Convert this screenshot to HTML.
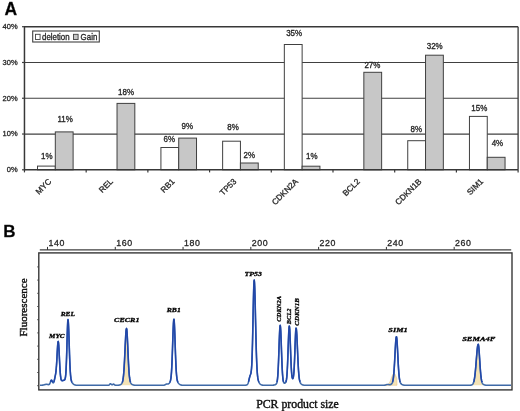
<!DOCTYPE html>
<html><head><meta charset="utf-8"><style>
html,body{margin:0;padding:0;background:#fff;width:520px;height:411px;overflow:hidden}
svg{display:block;will-change:transform} text{stroke:#2a2a2a;stroke-width:0.3px;stroke-linejoin:round} text.nb{stroke:none}
</style></head><body>
<svg width="520" height="411" viewBox="0 0 520 411">
<text x="4.6" y="14.6" font-family="Liberation Sans, sans-serif" font-size="17.5" font-weight="bold" fill="#000">A</text>
<line x1="24.46" y1="134.03" x2="518.1" y2="134.03" stroke="#404040" stroke-width="1.2"/>
<line x1="24.46" y1="98.25" x2="518.1" y2="98.25" stroke="#404040" stroke-width="1.2"/>
<line x1="24.46" y1="62.48" x2="518.1" y2="62.48" stroke="#404040" stroke-width="1.2"/>
<line x1="22" y1="169.80" x2="24.46" y2="169.80" stroke="#404040" stroke-width="1.2"/>
<line x1="22" y1="134.03" x2="24.46" y2="134.03" stroke="#404040" stroke-width="1.2"/>
<line x1="22" y1="98.25" x2="24.46" y2="98.25" stroke="#404040" stroke-width="1.2"/>
<line x1="22" y1="62.48" x2="24.46" y2="62.48" stroke="#404040" stroke-width="1.2"/>
<line x1="22" y1="26.70" x2="24.46" y2="26.70" stroke="#404040" stroke-width="1.2"/>
<text x="17.6" y="28.80" font-family="Liberation Sans, sans-serif" font-size="7.5" text-anchor="end" fill="#222">40%</text>
<text x="17.6" y="64.56" font-family="Liberation Sans, sans-serif" font-size="7.5" text-anchor="end" fill="#222">30%</text>
<text x="17.6" y="100.56" font-family="Liberation Sans, sans-serif" font-size="7.5" text-anchor="end" fill="#222">20%</text>
<text x="17.6" y="136.06" font-family="Liberation Sans, sans-serif" font-size="7.5" text-anchor="end" fill="#222">10%</text>
<text x="17.6" y="171.90" font-family="Liberation Sans, sans-serif" font-size="7.5" text-anchor="end" fill="#222">0%</text>
<rect x="37.51" y="166.10" width="17.80" height="3.70" fill="#fff" stroke="#404040" stroke-width="1"/>
<rect x="55.31" y="131.90" width="17.80" height="37.90" fill="#c7c7c7" stroke="#404040" stroke-width="1"/>
<rect x="117.02" y="103.40" width="17.80" height="66.40" fill="#c7c7c7" stroke="#404040" stroke-width="1"/>
<rect x="160.92" y="147.50" width="17.80" height="22.30" fill="#fff" stroke="#404040" stroke-width="1"/>
<rect x="178.72" y="138.10" width="17.80" height="31.70" fill="#c7c7c7" stroke="#404040" stroke-width="1"/>
<rect x="222.63" y="141.20" width="17.80" height="28.60" fill="#fff" stroke="#404040" stroke-width="1"/>
<rect x="240.43" y="163.00" width="17.80" height="6.80" fill="#c7c7c7" stroke="#404040" stroke-width="1"/>
<rect x="284.33" y="44.50" width="17.80" height="125.30" fill="#fff" stroke="#404040" stroke-width="1"/>
<rect x="302.13" y="166.20" width="17.80" height="3.60" fill="#c7c7c7" stroke="#404040" stroke-width="1"/>
<rect x="363.84" y="72.30" width="17.80" height="97.50" fill="#c7c7c7" stroke="#404040" stroke-width="1"/>
<rect x="407.74" y="140.70" width="17.80" height="29.10" fill="#fff" stroke="#404040" stroke-width="1"/>
<rect x="425.54" y="55.20" width="17.80" height="114.60" fill="#c7c7c7" stroke="#404040" stroke-width="1"/>
<rect x="469.45" y="116.40" width="17.80" height="53.40" fill="#fff" stroke="#404040" stroke-width="1"/>
<rect x="487.25" y="157.30" width="17.80" height="12.50" fill="#c7c7c7" stroke="#404040" stroke-width="1"/>
<line x1="24.46" y1="26.7" x2="518.1" y2="26.7" stroke="#383838" stroke-width="1.5"/>
<line x1="518.1" y1="26.7" x2="518.1" y2="169.8" stroke="#383838" stroke-width="1.3"/>
<line x1="24.46" y1="26" x2="24.46" y2="170.4" stroke="#383838" stroke-width="1.5"/>
<line x1="24.46" y1="169.8" x2="518.1" y2="169.8" stroke="#383838" stroke-width="1.5"/>
<line x1="24.46" y1="169.8" x2="24.46" y2="172.4" stroke="#383838" stroke-width="1.2"/>
<line x1="86.17" y1="169.8" x2="86.17" y2="172.4" stroke="#383838" stroke-width="1.2"/>
<line x1="147.87" y1="169.8" x2="147.87" y2="172.4" stroke="#383838" stroke-width="1.2"/>
<line x1="209.58" y1="169.8" x2="209.58" y2="172.4" stroke="#383838" stroke-width="1.2"/>
<line x1="271.28" y1="169.8" x2="271.28" y2="172.4" stroke="#383838" stroke-width="1.2"/>
<line x1="332.99" y1="169.8" x2="332.99" y2="172.4" stroke="#383838" stroke-width="1.2"/>
<line x1="394.69" y1="169.8" x2="394.69" y2="172.4" stroke="#383838" stroke-width="1.2"/>
<line x1="456.40" y1="169.8" x2="456.40" y2="172.4" stroke="#383838" stroke-width="1.2"/>
<line x1="518.10" y1="169.8" x2="518.10" y2="172.4" stroke="#383838" stroke-width="1.2"/>
<text transform="translate(46.75,159.40) scale(1,1.15)" font-family="Liberation Sans, sans-serif" font-size="8" text-anchor="middle" fill="#222">1%</text>
<text transform="translate(65.10,121.90) scale(1,1.15)" font-family="Liberation Sans, sans-serif" font-size="8" text-anchor="middle" fill="#222">11%</text>
<text transform="translate(126.10,94.60) scale(1,1.15)" font-family="Liberation Sans, sans-serif" font-size="8" text-anchor="middle" fill="#222">18%</text>
<text transform="translate(169.35,142.40) scale(1,1.15)" font-family="Liberation Sans, sans-serif" font-size="8" text-anchor="middle" fill="#222">6%</text>
<text transform="translate(187.35,128.50) scale(1,1.15)" font-family="Liberation Sans, sans-serif" font-size="8" text-anchor="middle" fill="#222">9%</text>
<text transform="translate(233.05,130.30) scale(1,1.15)" font-family="Liberation Sans, sans-serif" font-size="8" text-anchor="middle" fill="#222">8%</text>
<text transform="translate(249.30,157.50) scale(1,1.15)" font-family="Liberation Sans, sans-serif" font-size="8" text-anchor="middle" fill="#222">2%</text>
<text transform="translate(294.15,36.40) scale(1,1.15)" font-family="Liberation Sans, sans-serif" font-size="8" text-anchor="middle" fill="#222">35%</text>
<text transform="translate(311.85,158.80) scale(1,1.15)" font-family="Liberation Sans, sans-serif" font-size="8" text-anchor="middle" fill="#222">1%</text>
<text transform="translate(372.40,67.70) scale(1,1.15)" font-family="Liberation Sans, sans-serif" font-size="8" text-anchor="middle" fill="#222">27%</text>
<text transform="translate(416.35,131.60) scale(1,1.15)" font-family="Liberation Sans, sans-serif" font-size="8" text-anchor="middle" fill="#222">8%</text>
<text transform="translate(434.70,48.50) scale(1,1.15)" font-family="Liberation Sans, sans-serif" font-size="8" text-anchor="middle" fill="#222">32%</text>
<text transform="translate(479.30,111.20) scale(1,1.15)" font-family="Liberation Sans, sans-serif" font-size="8" text-anchor="middle" fill="#222">15%</text>
<text transform="translate(497.45,145.60) scale(1,1.15)" font-family="Liberation Sans, sans-serif" font-size="8" text-anchor="middle" fill="#222">4%</text>
<text transform="translate(48.51,178.00) rotate(-45)" x="-0.5" y="5.2" font-family="Liberation Sans, sans-serif" font-size="8.2" text-anchor="end" fill="#222">MYC</text>
<text transform="translate(110.22,178.00) rotate(-45)" x="-0.5" y="5.2" font-family="Liberation Sans, sans-serif" font-size="8.2" text-anchor="end" fill="#222">REL</text>
<text transform="translate(171.92,178.00) rotate(-45)" x="-0.5" y="5.2" font-family="Liberation Sans, sans-serif" font-size="8.2" text-anchor="end" fill="#222">RB1</text>
<text transform="translate(233.63,178.00) rotate(-45)" x="-0.5" y="5.2" font-family="Liberation Sans, sans-serif" font-size="8.2" text-anchor="end" fill="#222">TP53</text>
<text transform="translate(295.33,178.00) rotate(-45)" x="-0.5" y="5.2" font-family="Liberation Sans, sans-serif" font-size="8.2" text-anchor="end" fill="#222">CDKN2A</text>
<text transform="translate(357.04,178.00) rotate(-45)" x="-0.5" y="5.2" font-family="Liberation Sans, sans-serif" font-size="8.2" text-anchor="end" fill="#222">BCL2</text>
<text transform="translate(418.74,178.00) rotate(-45)" x="-0.5" y="5.2" font-family="Liberation Sans, sans-serif" font-size="8.2" text-anchor="end" fill="#222">CDKN1B</text>
<text transform="translate(480.45,178.00) rotate(-45)" x="-0.5" y="5.2" font-family="Liberation Sans, sans-serif" font-size="8.2" text-anchor="end" fill="#222">SIM1</text>
<rect x="32.7" y="31" width="66.6" height="11" fill="#fff" stroke="#404040" stroke-width="1.1"/>
<rect x="35.5" y="34.3" width="4.6" height="5.2" fill="#fff" stroke="#404040" stroke-width="0.9"/>
<text transform="translate(42,39.8) scale(1,1.1)" font-family="Liberation Sans, sans-serif" font-size="7.9" fill="#222">deletion</text>
<rect x="73.5" y="34.3" width="4.6" height="5.2" fill="#c7c7c7" stroke="#404040" stroke-width="0.9"/>
<text transform="translate(80.6,39.8) scale(1,1.1)" font-family="Liberation Sans, sans-serif" font-size="7.9" fill="#222">Gain</text>
<text x="3.3" y="236.7" font-family="Liberation Sans, sans-serif" font-size="17" font-weight="bold" fill="#000">B</text>
<rect x="38.8" y="252.9" width="473.2" height="136.99999999999997" fill="none" stroke="#303030" stroke-width="1.35"/>
<line x1="39.8" y1="249.8" x2="511.2" y2="249.8" stroke="#404040" stroke-width="1.3"/>
<line x1="37.2" y1="266.90" x2="38.8" y2="266.90" stroke="#404040" stroke-width="0.9"/>
<line x1="37.2" y1="280.10" x2="38.8" y2="280.10" stroke="#404040" stroke-width="0.9"/>
<line x1="37.2" y1="293.30" x2="38.8" y2="293.30" stroke="#404040" stroke-width="0.9"/>
<line x1="37.2" y1="306.50" x2="38.8" y2="306.50" stroke="#404040" stroke-width="0.9"/>
<line x1="37.2" y1="319.70" x2="38.8" y2="319.70" stroke="#404040" stroke-width="0.9"/>
<line x1="37.2" y1="332.90" x2="38.8" y2="332.90" stroke="#404040" stroke-width="0.9"/>
<line x1="37.2" y1="346.10" x2="38.8" y2="346.10" stroke="#404040" stroke-width="0.9"/>
<line x1="37.2" y1="359.30" x2="38.8" y2="359.30" stroke="#404040" stroke-width="0.9"/>
<line x1="37.2" y1="372.50" x2="38.8" y2="372.50" stroke="#404040" stroke-width="0.9"/>
<line x1="37.2" y1="385.70" x2="38.8" y2="385.70" stroke="#404040" stroke-width="0.9"/>
<line x1="47.50" y1="246.9" x2="47.50" y2="249.8" stroke="#303030" stroke-width="1"/>
<text x="48.40" y="245.8" font-family="Liberation Sans, sans-serif" font-size="8.8" letter-spacing="0.6" fill="#222">140</text>
<line x1="115.28" y1="246.9" x2="115.28" y2="249.8" stroke="#303030" stroke-width="1"/>
<text x="116.18" y="245.8" font-family="Liberation Sans, sans-serif" font-size="8.8" letter-spacing="0.6" fill="#222">160</text>
<line x1="183.06" y1="246.9" x2="183.06" y2="249.8" stroke="#303030" stroke-width="1"/>
<text x="183.96" y="245.8" font-family="Liberation Sans, sans-serif" font-size="8.8" letter-spacing="0.6" fill="#222">180</text>
<line x1="250.84" y1="246.9" x2="250.84" y2="249.8" stroke="#303030" stroke-width="1"/>
<text x="251.74" y="245.8" font-family="Liberation Sans, sans-serif" font-size="8.8" letter-spacing="0.6" fill="#222">200</text>
<line x1="318.62" y1="246.9" x2="318.62" y2="249.8" stroke="#303030" stroke-width="1"/>
<text x="319.52" y="245.8" font-family="Liberation Sans, sans-serif" font-size="8.8" letter-spacing="0.6" fill="#222">220</text>
<line x1="386.40" y1="246.9" x2="386.40" y2="249.8" stroke="#303030" stroke-width="1"/>
<text x="387.30" y="245.8" font-family="Liberation Sans, sans-serif" font-size="8.8" letter-spacing="0.6" fill="#222">240</text>
<line x1="454.18" y1="246.9" x2="454.18" y2="249.8" stroke="#303030" stroke-width="1"/>
<text x="455.08" y="245.8" font-family="Liberation Sans, sans-serif" font-size="8.8" letter-spacing="0.6" fill="#222">260</text>
<polygon points="119.50,385.30 119.50,385.60 119.75,385.53 120.00,385.44 120.25,385.33 120.50,385.20 120.75,385.05 121.00,384.87 121.25,384.65 121.50,384.38 121.75,384.05 122.00,383.62 122.25,383.06 122.50,382.32 122.75,381.35 123.00,380.05 123.25,378.36 123.50,376.16 123.75,373.40 124.00,369.99 124.25,365.93 124.50,361.27 124.75,356.11 125.00,350.66 125.25,345.19 125.50,340.02 125.75,335.51 126.00,332.00 126.25,329.77 126.50,329.00 126.75,329.88 127.00,332.43 127.25,336.40 127.50,341.44 127.75,347.10 128.00,352.98 128.25,358.67 128.50,363.90 128.75,368.47 129.00,372.30 129.25,375.40 129.50,377.81 129.75,379.66 130.00,381.04 130.25,382.06 130.50,382.82 130.75,383.39 131.00,383.83 131.25,384.18 131.50,384.46 131.75,384.70 132.00,384.90 132.25,385.07 132.50,385.21 132.75,385.33 133.00,385.44 133.00,385.30" fill="#f3e2b5" stroke="none"/>
<polygon points="469.00,385.30 469.00,385.88 469.25,385.87 469.50,385.86 469.75,385.85 470.00,385.83 470.25,385.81 470.50,385.78 470.75,385.75 471.00,385.70 471.25,385.64 471.50,385.57 471.75,385.47 472.00,385.34 472.25,385.18 472.50,384.97 472.75,384.69 473.00,384.33 473.25,383.86 473.50,383.27 473.75,382.51 474.00,381.56 474.25,380.39 474.50,378.96 474.75,377.26 475.00,375.26 475.25,372.96 475.50,370.37 475.75,367.53 476.00,364.50 476.25,361.34 476.50,358.15 476.75,355.06 477.00,352.18 477.25,349.63 477.50,347.54 477.75,346.01 478.00,345.12 478.25,344.92 478.50,345.69 478.75,347.50 479.00,350.19 479.25,353.56 479.50,357.34 479.75,361.30 480.00,365.20 480.25,368.86 480.50,372.13 480.75,374.96 481.00,377.32 481.25,379.23 481.50,380.74 481.75,381.90 482.00,382.78 482.25,383.44 482.50,383.94 482.75,384.32 483.00,384.62 483.25,384.85 483.50,385.03 483.50,385.30" fill="#f3e2b5" stroke="none"/>
<polygon points="384,385.30 384.00,385.29 384.25,385.29 384.50,385.28 384.75,385.28 385.00,385.27 385.25,385.26 385.50,385.24 385.75,385.22 386.00,385.19 386.25,385.16 386.50,385.11 386.75,385.05 387.00,384.98 387.25,384.89 387.50,384.77 387.75,384.63 388.00,384.46 388.25,384.26 388.50,384.02 388.75,383.74 389.00,383.41 389.25,383.04 389.50,382.62 389.75,382.15 390.00,381.63 390.25,381.06 390.50,380.45 390.75,379.81 391.00,379.13 391.25,378.44 391.50,377.74 391.75,377.05 392.00,376.37 392.25,375.73 392.50,375.14 392.75,374.61 393.00,374.16 393.25,373.79 393.50,373.52 393.75,373.36 394.00,373.30 394.25,373.36 394.50,373.52 394.75,373.79 395.00,374.16 395.25,374.61 395.50,375.14 395.75,375.73 396.00,376.37 396.25,377.05 396.50,377.74 396.75,378.44 397,385.30" fill="#f3e2b5" stroke="#e6bd78" stroke-width="0.5"/>
<polyline points="40.00,385.29 40.25,385.29 40.50,385.29 40.75,385.28 41.00,385.28 41.25,385.27 41.50,385.26 41.75,385.24 42.00,385.22 42.25,385.20 42.50,385.16 42.75,385.13 43.00,385.08 43.25,385.03 43.50,384.98 43.75,384.91 44.00,384.84 44.25,384.77 44.50,384.69 44.75,384.62 45.00,384.55 45.25,384.48 45.50,384.42 45.75,384.37 46.00,384.33 46.25,384.31 46.50,384.30 46.75,384.31 47.00,384.33 47.25,384.36 47.50,384.41 47.75,384.47 48.00,384.52 48.25,384.57 48.50,384.61 48.75,384.61 49.00,384.55 49.25,384.40 49.50,384.14 49.75,383.75 50.00,383.21 50.25,382.56 50.50,381.84 50.75,381.16 51.00,380.60 51.25,380.25 51.50,380.18 51.75,380.38 52.00,380.80 52.25,381.35 52.50,381.93 52.75,382.42 53.00,382.74 53.25,382.83 53.50,382.65 53.75,382.21 54.00,381.50 54.25,380.59 54.50,379.51 54.75,378.35 55.00,377.14 55.25,375.90 55.50,374.57 55.75,373.03 56.00,371.08 56.25,368.54 56.50,365.27 56.75,361.28 57.00,356.75 57.25,352.03 57.50,347.62 57.75,344.08 58.00,341.90 58.25,341.42 58.50,342.73 58.75,345.68 59.00,349.88 59.25,354.84 59.50,360.02 59.75,364.96 60.00,369.30 60.25,372.87 60.50,375.62 60.75,377.60 61.00,378.95 61.25,379.81 61.50,380.30 61.75,380.55 62.00,380.65 62.25,380.65 62.50,380.61 62.75,380.55 63.00,380.48 63.25,380.42 63.50,380.36 63.75,380.30 64.00,380.22 64.25,380.11 64.50,379.93 64.75,379.63 65.00,379.12 65.25,378.24 65.50,376.79 65.75,374.48 66.00,370.99 66.25,366.04 66.50,359.50 66.75,351.56 67.00,342.74 67.25,333.99 67.50,326.47 67.75,321.38 68.00,319.58 68.25,320.97 68.50,324.93 68.75,330.95 69.00,338.28 69.25,346.14 69.50,353.77 69.75,360.65 70.00,366.45 70.25,371.06 70.50,374.56 70.75,377.12 71.00,378.93 71.25,380.21 71.50,381.13 71.75,381.80 72.00,382.32 72.25,382.75 72.50,383.11 72.75,383.42 73.00,383.69 73.25,383.94 73.50,384.15 73.75,384.34 74.00,384.51 74.25,384.65 74.50,384.77 74.75,384.87 75.00,384.95 75.25,385.02 75.50,385.08 75.75,385.13 76.00,385.17 76.25,385.20 76.50,385.22 76.75,385.24 77.00,385.25 77.25,385.27 77.50,385.28 77.75,385.28 78.00,385.29 78.25,385.29 78.50,385.29 78.75,385.30 79.00,385.30 79.25,385.30 79.50,385.30 79.75,385.30 80.00,385.30 80.25,385.30 80.50,385.30 80.75,385.30 81.00,385.30 81.25,385.30 81.50,385.30 81.75,385.30 82.00,385.30 82.25,385.30 82.50,385.30 82.75,385.30 83.00,385.30 83.25,385.30 83.50,385.30 83.75,385.30 84.00,385.30 84.25,385.30 84.50,385.30 84.75,385.30 85.00,385.30 85.25,385.30 85.50,385.30 85.75,385.30 86.00,385.30 86.25,385.30 86.50,385.30 86.75,385.30 87.00,385.30 87.25,385.30 87.50,385.30 87.75,385.30 88.00,385.30 88.25,385.30 88.50,385.30 88.75,385.30 89.00,385.30 89.25,385.30 89.50,385.30 89.75,385.30 90.00,385.30 90.25,385.30 90.50,385.30 90.75,385.30 91.00,385.30 91.25,385.30 91.50,385.30 91.75,385.30 92.00,385.30 92.25,385.30 92.50,385.30 92.75,385.30 93.00,385.30 93.25,385.30 93.50,385.30 93.75,385.30 94.00,385.30 94.25,385.30 94.50,385.30 94.75,385.30 95.00,385.30 95.25,385.30 95.50,385.30 95.75,385.30 96.00,385.30 96.25,385.30 96.50,385.30 96.75,385.30 97.00,385.30 97.25,385.30 97.50,385.30 97.75,385.30 98.00,385.30 98.25,385.30 98.50,385.30 98.75,385.30 99.00,385.30 99.25,385.30 99.50,385.30 99.75,385.30 100.00,385.30 100.25,385.30 100.50,385.30 100.75,385.30 101.00,385.30 101.25,385.30 101.50,385.30 101.75,385.30 102.00,385.30 102.25,385.30 102.50,385.30 102.75,385.30 103.00,385.30 103.25,385.30 103.50,385.30 103.75,385.30 104.00,385.30 104.25,385.30 104.50,385.30 104.75,385.30 105.00,385.30 105.25,385.30 105.50,385.30 105.75,385.30 106.00,385.30 106.25,385.30 106.50,385.30 106.75,385.30 107.00,385.30 107.25,385.30 107.50,385.30 107.75,385.30 108.00,385.29 108.25,385.27 108.50,385.23 108.75,385.15 109.00,385.02 109.25,384.83 109.50,384.57 109.75,384.27 110.00,383.98 110.25,383.78 110.50,383.70 110.75,383.77 111.00,383.97 111.25,384.25 111.50,384.51 111.75,384.72 112.00,384.82 112.25,384.80 112.50,384.68 112.75,384.50 113.00,384.30 113.25,384.15 113.50,384.10 113.75,384.16 114.00,384.31 114.25,384.53 114.50,384.75 114.75,384.94 115.00,385.09 115.25,385.19 115.50,385.24 115.75,385.27 116.00,385.28 116.25,385.29 116.50,385.29 116.75,385.28 117.00,385.28 117.25,385.27 117.50,385.26 117.75,385.25 118.00,385.23 118.25,385.21 118.50,385.18 118.75,385.15 119.00,385.11 119.25,385.06 119.50,385.00 119.75,384.93 120.00,384.84 120.25,384.73 120.50,384.60 120.75,384.45 121.00,384.27 121.25,384.05 121.50,383.78 121.75,383.45 122.00,383.02 122.25,382.46 122.50,381.72 122.75,380.75 123.00,379.45 123.25,377.76 123.50,375.56 123.75,372.80 124.00,369.39 124.25,365.33 124.50,360.67 124.75,355.51 125.00,350.06 125.25,344.59 125.50,339.42 125.75,334.91 126.00,331.40 126.25,329.17 126.50,328.40 126.75,329.28 127.00,331.83 127.25,335.80 127.50,340.84 127.75,346.50 128.00,352.38 128.25,358.07 128.50,363.30 128.75,367.87 129.00,371.70 129.25,374.80 129.50,377.21 129.75,379.06 130.00,380.44 130.25,381.46 130.50,382.22 130.75,382.79 131.00,383.23 131.25,383.58 131.50,383.86 131.75,384.10 132.00,384.30 132.25,384.47 132.50,384.61 132.75,384.73 133.00,384.84 133.25,384.93 133.50,385.00 133.75,385.06 134.00,385.11 134.25,385.15 134.50,385.18 134.75,385.21 135.00,385.23 135.25,385.25 135.50,385.26 135.75,385.27 136.00,385.28 136.25,385.28 136.50,385.29 136.75,385.29 137.00,385.29 137.25,385.30 137.50,385.30 137.75,385.30 138.00,385.30 138.25,385.30 138.50,385.30 138.75,385.30 139.00,385.30 139.25,385.30 139.50,385.30 139.75,385.30 140.00,385.30 140.25,385.30 140.50,385.30 140.75,385.30 141.00,385.30 141.25,385.30 141.50,385.30 141.75,385.30 142.00,385.30 142.25,385.30 142.50,385.30 142.75,385.30 143.00,385.30 143.25,385.30 143.50,385.30 143.75,385.30 144.00,385.30 144.25,385.30 144.50,385.30 144.75,385.30 145.00,385.30 145.25,385.30 145.50,385.30 145.75,385.30 146.00,385.30 146.25,385.30 146.50,385.30 146.75,385.30 147.00,385.30 147.25,385.30 147.50,385.30 147.75,385.30 148.00,385.30 148.25,385.30 148.50,385.30 148.75,385.30 149.00,385.30 149.25,385.30 149.50,385.30 149.75,385.30 150.00,385.30 150.25,385.30 150.50,385.30 150.75,385.30 151.00,385.30 151.25,385.30 151.50,385.30 151.75,385.30 152.00,385.30 152.25,385.30 152.50,385.30 152.75,385.30 153.00,385.30 153.25,385.30 153.50,385.30 153.75,385.30 154.00,385.30 154.25,385.30 154.50,385.30 154.75,385.30 155.00,385.30 155.25,385.30 155.50,385.30 155.75,385.30 156.00,385.30 156.25,385.30 156.50,385.30 156.75,385.30 157.00,385.30 157.25,385.30 157.50,385.30 157.75,385.30 158.00,385.30 158.25,385.30 158.50,385.30 158.75,385.30 159.00,385.30 159.25,385.30 159.50,385.30 159.75,385.30 160.00,385.30 160.25,385.30 160.50,385.30 160.75,385.30 161.00,385.30 161.25,385.30 161.50,385.30 161.75,385.30 162.00,385.30 162.25,385.30 162.50,385.29 162.75,385.29 163.00,385.28 163.25,385.27 163.50,385.25 163.75,385.22 164.00,385.17 164.25,385.11 164.50,385.02 164.75,384.92 165.00,384.79 165.25,384.65 165.50,384.50 165.75,384.36 166.00,384.23 166.25,384.13 166.50,384.06 166.75,384.02 167.00,384.00 167.25,384.00 167.50,384.01 167.75,384.01 168.00,383.98 168.25,383.92 168.50,383.81 168.75,383.66 169.00,383.45 169.25,383.19 169.50,382.87 169.75,382.47 170.00,381.97 170.25,381.32 170.50,380.44 170.75,379.21 171.00,377.50 171.25,375.12 171.50,371.89 171.75,367.65 172.00,362.32 172.25,355.94 172.50,348.74 172.75,341.13 173.00,333.70 173.25,327.17 173.50,322.23 173.75,319.47 174.00,319.21 174.25,321.49 174.50,326.04 174.75,332.30 175.00,339.61 175.25,347.23 175.50,354.56 175.75,361.13 176.00,366.68 176.25,371.13 176.50,374.55 176.75,377.08 177.00,378.92 177.25,380.23 177.50,381.17 177.75,381.87 178.00,382.41 178.25,382.84 178.50,383.20 178.75,383.51 179.00,383.78 179.25,384.02 179.50,384.22 179.75,384.40 180.00,384.56 180.25,384.69 180.50,384.81 180.75,384.90 181.00,384.98 181.25,385.05 181.50,385.10 181.75,385.14 182.00,385.18 182.25,385.21 182.50,385.23 182.75,385.25 183.00,385.26 183.25,385.27 183.50,385.28 183.75,385.28 184.00,385.29 184.25,385.29 184.50,385.29 184.75,385.30 185.00,385.30 185.25,385.30 185.50,385.30 185.75,385.30 186.00,385.30 186.25,385.30 186.50,385.30 186.75,385.30 187.00,385.30 187.25,385.30 187.50,385.30 187.75,385.30 188.00,385.30 188.25,385.30 188.50,385.30 188.75,385.30 189.00,385.30 189.25,385.30 189.50,385.30 189.75,385.30 190.00,385.30 190.25,385.30 190.50,385.30 190.75,385.30 191.00,385.30 191.25,385.30 191.50,385.30 191.75,385.30 192.00,385.30 192.25,385.30 192.50,385.30 192.75,385.30 193.00,385.30 193.25,385.30 193.50,385.30 193.75,385.30 194.00,385.30 194.25,385.30 194.50,385.30 194.75,385.30 195.00,385.30 195.25,385.30 195.50,385.30 195.75,385.30 196.00,385.30 196.25,385.30 196.50,385.30 196.75,385.30 197.00,385.30 197.25,385.30 197.50,385.30 197.75,385.30 198.00,385.30 198.25,385.30 198.50,385.30 198.75,385.30 199.00,385.30 199.25,385.30 199.50,385.30 199.75,385.30 200.00,385.30 200.25,385.30 200.50,385.30 200.75,385.30 201.00,385.30 201.25,385.30 201.50,385.30 201.75,385.30 202.00,385.30 202.25,385.30 202.50,385.30 202.75,385.30 203.00,385.30 203.25,385.30 203.50,385.30 203.75,385.30 204.00,385.30 204.25,385.30 204.50,385.30 204.75,385.30 205.00,385.30 205.25,385.30 205.50,385.30 205.75,385.30 206.00,385.30 206.25,385.30 206.50,385.30 206.75,385.30 207.00,385.30 207.25,385.30 207.50,385.30 207.75,385.30 208.00,385.30 208.25,385.30 208.50,385.30 208.75,385.30 209.00,385.30 209.25,385.30 209.50,385.30 209.75,385.30 210.00,385.30 210.25,385.30 210.50,385.30 210.75,385.30 211.00,385.30 211.25,385.30 211.50,385.30 211.75,385.30 212.00,385.30 212.25,385.30 212.50,385.30 212.75,385.30 213.00,385.30 213.25,385.30 213.50,385.30 213.75,385.30 214.00,385.30 214.25,385.30 214.50,385.30 214.75,385.30 215.00,385.30 215.25,385.30 215.50,385.30 215.75,385.30 216.00,385.30 216.25,385.30 216.50,385.30 216.75,385.30 217.00,385.30 217.25,385.30 217.50,385.30 217.75,385.30 218.00,385.30 218.25,385.30 218.50,385.30 218.75,385.30 219.00,385.30 219.25,385.30 219.50,385.30 219.75,385.30 220.00,385.30 220.25,385.30 220.50,385.30 220.75,385.30 221.00,385.30 221.25,385.30 221.50,385.30 221.75,385.30 222.00,385.30 222.25,385.30 222.50,385.30 222.75,385.30 223.00,385.30 223.25,385.30 223.50,385.30 223.75,385.30 224.00,385.30 224.25,385.30 224.50,385.30 224.75,385.30 225.00,385.30 225.25,385.30 225.50,385.30 225.75,385.30 226.00,385.30 226.25,385.30 226.50,385.30 226.75,385.30 227.00,385.30 227.25,385.30 227.50,385.30 227.75,385.30 228.00,385.30 228.25,385.30 228.50,385.30 228.75,385.30 229.00,385.30 229.25,385.30 229.50,385.30 229.75,385.30 230.00,385.30 230.25,385.30 230.50,385.30 230.75,385.30 231.00,385.30 231.25,385.30 231.50,385.30 231.75,385.30 232.00,385.30 232.25,385.30 232.50,385.30 232.75,385.30 233.00,385.30 233.25,385.30 233.50,385.30 233.75,385.30 234.00,385.30 234.25,385.30 234.50,385.30 234.75,385.30 235.00,385.30 235.25,385.30 235.50,385.30 235.75,385.30 236.00,385.30 236.25,385.30 236.50,385.30 236.75,385.30 237.00,385.30 237.25,385.30 237.50,385.30 237.75,385.30 238.00,385.30 238.25,385.30 238.50,385.30 238.75,385.30 239.00,385.30 239.25,385.30 239.50,385.30 239.75,385.30 240.00,385.30 240.25,385.30 240.50,385.30 240.75,385.30 241.00,385.30 241.25,385.30 241.50,385.30 241.75,385.30 242.00,385.30 242.25,385.30 242.50,385.30 242.75,385.30 243.00,385.30 243.25,385.29 243.50,385.29 243.75,385.29 244.00,385.28 244.25,385.28 244.50,385.27 244.75,385.26 245.00,385.24 245.25,385.22 245.50,385.20 245.75,385.17 246.00,385.12 246.25,385.07 246.50,384.99 246.75,384.89 247.00,384.74 247.25,384.55 247.50,384.27 247.75,383.89 248.00,383.37 248.25,382.71 248.50,381.89 248.75,380.92 249.00,379.86 249.25,378.75 249.50,377.68 249.75,376.71 250.00,375.88 250.25,375.18 250.50,374.54 250.75,373.83 251.00,372.83 251.25,371.25 251.50,368.77 251.75,364.99 252.00,359.56 252.25,352.22 252.50,342.90 252.75,331.85 253.00,319.65 253.25,307.27 253.50,295.92 253.75,286.91 254.00,281.38 254.25,280.05 254.50,282.50 254.75,288.17 255.00,296.49 255.25,306.65 255.50,317.75 255.75,328.94 256.00,339.49 256.25,348.91 256.50,356.91 256.75,363.42 257.00,368.53 257.25,372.41 257.50,375.30 257.75,377.42 258.00,378.98 258.25,380.14 258.50,381.02 258.75,381.72 259.00,382.29 259.25,382.77 259.50,383.17 259.75,383.52 260.00,383.82 260.25,384.07 260.50,384.29 260.75,384.48 261.00,384.64 261.25,384.77 261.50,384.88 261.75,384.97 262.00,385.04 262.25,385.10 262.50,385.14 262.75,385.18 263.00,385.21 263.25,385.23 263.50,385.25 263.75,385.26 264.00,385.27 264.25,385.28 264.50,385.29 264.75,385.29 265.00,385.29 265.25,385.29 265.50,385.30 265.75,385.30 266.00,385.30 266.25,385.30 266.50,385.30 266.75,385.30 267.00,385.30 267.25,385.30 267.50,385.30 267.75,385.30 268.00,385.30 268.25,385.30 268.50,385.30 268.75,385.30 269.00,385.30 269.25,385.30 269.50,385.30 269.75,385.30 270.00,385.30 270.25,385.29 270.50,385.29 270.75,385.29 271.00,385.29 271.25,385.28 271.50,385.28 271.75,385.27 272.00,385.26 272.25,385.25 272.50,385.23 272.75,385.21 273.00,385.19 273.25,385.16 273.50,385.13 273.75,385.09 274.00,385.04 274.25,384.99 274.50,384.92 274.75,384.85 275.00,384.76 275.25,384.66 275.50,384.54 275.75,384.39 276.00,384.20 276.25,383.94 276.50,383.56 276.75,382.98 277.00,382.11 277.25,380.80 277.50,378.88 277.75,376.16 278.00,372.48 278.25,367.72 278.50,361.91 278.75,355.20 279.00,347.99 279.25,340.79 279.50,334.30 279.75,329.19 280.00,326.07 280.25,325.32 280.50,327.04 280.75,331.00 281.00,336.72 281.25,343.56 281.50,350.81 281.75,357.85 282.00,364.20 282.25,369.56 282.50,373.83 282.75,377.05 283.00,379.36 283.25,380.93 283.50,381.95 283.75,382.58 284.00,382.94 284.25,383.12 284.50,383.19 284.75,383.17 285.00,383.09 285.25,382.93 285.50,382.68 285.75,382.29 286.00,381.70 286.25,380.78 286.50,379.38 286.75,377.32 287.00,374.39 287.25,370.44 287.50,365.35 287.75,359.21 288.00,352.24 288.25,344.94 288.50,337.95 288.75,332.01 289.00,327.85 289.25,325.99 289.50,326.69 289.75,329.83 290.00,334.98 290.25,341.48 290.50,348.57 290.75,355.55 291.00,361.87 291.25,367.17 291.50,371.34 291.75,374.40 292.00,376.49 292.25,377.80 292.50,378.48 292.75,378.65 293.00,378.36 293.25,377.57 293.50,376.17 293.75,373.99 294.00,370.84 294.25,366.58 294.50,361.19 294.75,354.83 295.00,347.89 295.25,340.98 295.50,334.89 295.75,330.40 296.00,328.14 296.25,328.30 296.50,330.25 296.75,333.74 297.00,338.45 297.25,343.96 297.50,349.84 297.75,355.68 298.00,361.16 298.25,366.03 298.50,370.19 298.75,373.59 299.00,376.28 299.25,378.35 299.50,379.91 299.75,381.07 300.00,381.93 300.25,382.57 300.50,383.06 300.75,383.44 301.00,383.75 301.25,384.00 301.50,384.22 301.75,384.40 302.00,384.55 302.25,384.68 302.50,384.80 302.75,384.89 303.00,384.97 303.25,385.04 303.50,385.09 303.75,385.14 304.00,385.17 304.25,385.20 304.50,385.22 304.75,385.24 305.00,385.26 305.25,385.27 305.50,385.28 305.75,385.28 306.00,385.29 306.25,385.29 306.50,385.29 306.75,385.30 307.00,385.30 307.25,385.30 307.50,385.30 307.75,385.30 308.00,385.30 308.25,385.30 308.50,385.30 308.75,385.30 309.00,385.30 309.25,385.30 309.50,385.30 309.75,385.30 310.00,385.30 310.25,385.30 310.50,385.30 310.75,385.30 311.00,385.30 311.25,385.30 311.50,385.30 311.75,385.30 312.00,385.30 312.25,385.30 312.50,385.30 312.75,385.30 313.00,385.30 313.25,385.30 313.50,385.30 313.75,385.30 314.00,385.30 314.25,385.30 314.50,385.30 314.75,385.30 315.00,385.30 315.25,385.30 315.50,385.30 315.75,385.30 316.00,385.30 316.25,385.30 316.50,385.30 316.75,385.30 317.00,385.30 317.25,385.30 317.50,385.30 317.75,385.30 318.00,385.30 318.25,385.30 318.50,385.30 318.75,385.30 319.00,385.30 319.25,385.30 319.50,385.30 319.75,385.30 320.00,385.30 320.25,385.30 320.50,385.30 320.75,385.30 321.00,385.30 321.25,385.30 321.50,385.30 321.75,385.30 322.00,385.30 322.25,385.30 322.50,385.30 322.75,385.30 323.00,385.30 323.25,385.30 323.50,385.30 323.75,385.30 324.00,385.30 324.25,385.30 324.50,385.30 324.75,385.30 325.00,385.30 325.25,385.30 325.50,385.30 325.75,385.30 326.00,385.30 326.25,385.30 326.50,385.30 326.75,385.30 327.00,385.30 327.25,385.30 327.50,385.30 327.75,385.30 328.00,385.30 328.25,385.30 328.50,385.30 328.75,385.30 329.00,385.30 329.25,385.30 329.50,385.30 329.75,385.30 330.00,385.30 330.25,385.30 330.50,385.30 330.75,385.30 331.00,385.30 331.25,385.30 331.50,385.30 331.75,385.30 332.00,385.30 332.25,385.30 332.50,385.30 332.75,385.30 333.00,385.30 333.25,385.30 333.50,385.30 333.75,385.30 334.00,385.30 334.25,385.30 334.50,385.30 334.75,385.30 335.00,385.30 335.25,385.30 335.50,385.30 335.75,385.30 336.00,385.30 336.25,385.30 336.50,385.30 336.75,385.30 337.00,385.30 337.25,385.30 337.50,385.30 337.75,385.30 338.00,385.30 338.25,385.30 338.50,385.30 338.75,385.30 339.00,385.30 339.25,385.30 339.50,385.30 339.75,385.30 340.00,385.30 340.25,385.30 340.50,385.30 340.75,385.30 341.00,385.30 341.25,385.30 341.50,385.30 341.75,385.30 342.00,385.30 342.25,385.30 342.50,385.30 342.75,385.30 343.00,385.30 343.25,385.30 343.50,385.30 343.75,385.30 344.00,385.30 344.25,385.30 344.50,385.30 344.75,385.30 345.00,385.30 345.25,385.30 345.50,385.30 345.75,385.30 346.00,385.30 346.25,385.30 346.50,385.30 346.75,385.30 347.00,385.30 347.25,385.30 347.50,385.30 347.75,385.30 348.00,385.30 348.25,385.30 348.50,385.30 348.75,385.30 349.00,385.30 349.25,385.30 349.50,385.30 349.75,385.30 350.00,385.30 350.25,385.30 350.50,385.30 350.75,385.30 351.00,385.30 351.25,385.30 351.50,385.30 351.75,385.30 352.00,385.30 352.25,385.30 352.50,385.30 352.75,385.30 353.00,385.30 353.25,385.30 353.50,385.30 353.75,385.30 354.00,385.30 354.25,385.30 354.50,385.30 354.75,385.30 355.00,385.30 355.25,385.30 355.50,385.30 355.75,385.30 356.00,385.30 356.25,385.30 356.50,385.30 356.75,385.30 357.00,385.30 357.25,385.30 357.50,385.30 357.75,385.30 358.00,385.30 358.25,385.30 358.50,385.30 358.75,385.30 359.00,385.30 359.25,385.30 359.50,385.30 359.75,385.30 360.00,385.30 360.25,385.30 360.50,385.30 360.75,385.30 361.00,385.30 361.25,385.30 361.50,385.30 361.75,385.30 362.00,385.30 362.25,385.30 362.50,385.30 362.75,385.30 363.00,385.30 363.25,385.30 363.50,385.30 363.75,385.30 364.00,385.30 364.25,385.30 364.50,385.30 364.75,385.30 365.00,385.30 365.25,385.30 365.50,385.30 365.75,385.30 366.00,385.30 366.25,385.30 366.50,385.30 366.75,385.30 367.00,385.30 367.25,385.30 367.50,385.30 367.75,385.30 368.00,385.30 368.25,385.30 368.50,385.30 368.75,385.30 369.00,385.30 369.25,385.30 369.50,385.30 369.75,385.30 370.00,385.30 370.25,385.30 370.50,385.30 370.75,385.30 371.00,385.30 371.25,385.30 371.50,385.30 371.75,385.30 372.00,385.30 372.25,385.30 372.50,385.30 372.75,385.30 373.00,385.30 373.25,385.30 373.50,385.30 373.75,385.30 374.00,385.30 374.25,385.30 374.50,385.30 374.75,385.30 375.00,385.30 375.25,385.30 375.50,385.30 375.75,385.30 376.00,385.30 376.25,385.30 376.50,385.30 376.75,385.30 377.00,385.30 377.25,385.30 377.50,385.30 377.75,385.30 378.00,385.30 378.25,385.30 378.50,385.30 378.75,385.30 379.00,385.30 379.25,385.30 379.50,385.30 379.75,385.30 380.00,385.30 380.25,385.30 380.50,385.30 380.75,385.30 381.00,385.30 381.25,385.30 381.50,385.30 381.75,385.30 382.00,385.30 382.25,385.30 382.50,385.30 382.75,385.29 383.00,385.29 383.25,385.29 383.50,385.28 383.75,385.26 384.00,385.25 384.25,385.22 384.50,385.19 384.75,385.15 385.00,385.10 385.25,385.04 385.50,384.97 385.75,384.89 386.00,384.81 386.25,384.73 386.50,384.65 386.75,384.58 387.00,384.52 387.25,384.48 387.50,384.46 387.75,384.46 388.00,384.48 388.25,384.51 388.50,384.55 388.75,384.59 389.00,384.64 389.25,384.67 389.50,384.69 389.75,384.69 390.00,384.67 390.25,384.62 390.50,384.55 390.75,384.45 391.00,384.31 391.25,384.14 391.50,383.92 391.75,383.64 392.00,383.28 392.25,382.82 392.50,382.20 392.75,381.37 393.00,380.26 393.25,378.79 393.50,376.87 393.75,374.42 394.00,371.39 394.25,367.77 394.50,363.59 394.75,358.99 395.00,354.15 395.25,349.34 395.50,344.89 395.75,341.13 396.00,338.37 396.25,336.85 396.50,336.72 396.75,338.06 397.00,340.76 397.25,344.57 397.50,349.14 397.75,354.10 398.00,359.10 398.25,363.84 398.50,368.11 398.75,371.77 399.00,374.80 399.25,377.20 399.50,379.06 399.75,380.47 400.00,381.52 400.25,382.29 400.50,382.87 400.75,383.31 401.00,383.66 401.25,383.93 401.50,384.15 401.75,384.34 402.00,384.50 402.25,384.64 402.50,384.75 402.75,384.85 403.00,384.94 403.25,385.01 403.50,385.07 403.75,385.11 404.00,385.15 404.25,385.19 404.50,385.21 404.75,385.23 405.00,385.25 405.25,385.26 405.50,385.27 405.75,385.28 406.00,385.28 406.25,385.29 406.50,385.29 406.75,385.29 407.00,385.30 407.25,385.30 407.50,385.30 407.75,385.30 408.00,385.30 408.25,385.30 408.50,385.30 408.75,385.30 409.00,385.30 409.25,385.30 409.50,385.30 409.75,385.30 410.00,385.30 410.25,385.30 410.50,385.30 410.75,385.30 411.00,385.30 411.25,385.30 411.50,385.30 411.75,385.30 412.00,385.30 412.25,385.30 412.50,385.30 412.75,385.30 413.00,385.30 413.25,385.30 413.50,385.30 413.75,385.30 414.00,385.30 414.25,385.30 414.50,385.30 414.75,385.30 415.00,385.30 415.25,385.30 415.50,385.30 415.75,385.30 416.00,385.30 416.25,385.30 416.50,385.30 416.75,385.30 417.00,385.30 417.25,385.30 417.50,385.30 417.75,385.30 418.00,385.30 418.25,385.30 418.50,385.30 418.75,385.30 419.00,385.30 419.25,385.30 419.50,385.30 419.75,385.30 420.00,385.30 420.25,385.30 420.50,385.30 420.75,385.30 421.00,385.30 421.25,385.30 421.50,385.30 421.75,385.30 422.00,385.30 422.25,385.30 422.50,385.30 422.75,385.30 423.00,385.30 423.25,385.30 423.50,385.30 423.75,385.30 424.00,385.30 424.25,385.30 424.50,385.30 424.75,385.30 425.00,385.30 425.25,385.30 425.50,385.30 425.75,385.30 426.00,385.30 426.25,385.30 426.50,385.30 426.75,385.30 427.00,385.30 427.25,385.30 427.50,385.30 427.75,385.30 428.00,385.30 428.25,385.30 428.50,385.30 428.75,385.30 429.00,385.30 429.25,385.30 429.50,385.30 429.75,385.30 430.00,385.30 430.25,385.30 430.50,385.30 430.75,385.30 431.00,385.30 431.25,385.30 431.50,385.30 431.75,385.30 432.00,385.30 432.25,385.30 432.50,385.30 432.75,385.30 433.00,385.30 433.25,385.30 433.50,385.30 433.75,385.30 434.00,385.30 434.25,385.30 434.50,385.30 434.75,385.30 435.00,385.30 435.25,385.30 435.50,385.30 435.75,385.30 436.00,385.30 436.25,385.30 436.50,385.30 436.75,385.30 437.00,385.30 437.25,385.30 437.50,385.30 437.75,385.30 438.00,385.30 438.25,385.30 438.50,385.30 438.75,385.30 439.00,385.30 439.25,385.30 439.50,385.30 439.75,385.30 440.00,385.30 440.25,385.30 440.50,385.30 440.75,385.30 441.00,385.30 441.25,385.30 441.50,385.30 441.75,385.30 442.00,385.30 442.25,385.30 442.50,385.30 442.75,385.30 443.00,385.30 443.25,385.30 443.50,385.30 443.75,385.30 444.00,385.30 444.25,385.30 444.50,385.30 444.75,385.30 445.00,385.30 445.25,385.30 445.50,385.30 445.75,385.30 446.00,385.30 446.25,385.30 446.50,385.30 446.75,385.30 447.00,385.30 447.25,385.30 447.50,385.30 447.75,385.30 448.00,385.30 448.25,385.30 448.50,385.30 448.75,385.30 449.00,385.30 449.25,385.30 449.50,385.30 449.75,385.30 450.00,385.30 450.25,385.30 450.50,385.30 450.75,385.30 451.00,385.30 451.25,385.30 451.50,385.30 451.75,385.30 452.00,385.30 452.25,385.30 452.50,385.30 452.75,385.30 453.00,385.30 453.25,385.30 453.50,385.30 453.75,385.30 454.00,385.30 454.25,385.30 454.50,385.30 454.75,385.30 455.00,385.30 455.25,385.30 455.50,385.30 455.75,385.30 456.00,385.30 456.25,385.30 456.50,385.30 456.75,385.30 457.00,385.30 457.25,385.30 457.50,385.30 457.75,385.30 458.00,385.30 458.25,385.30 458.50,385.30 458.75,385.30 459.00,385.30 459.25,385.30 459.50,385.30 459.75,385.30 460.00,385.30 460.25,385.30 460.50,385.30 460.75,385.30 461.00,385.30 461.25,385.30 461.50,385.30 461.75,385.30 462.00,385.30 462.25,385.30 462.50,385.30 462.75,385.30 463.00,385.30 463.25,385.30 463.50,385.30 463.75,385.30 464.00,385.30 464.25,385.30 464.50,385.30 464.75,385.30 465.00,385.30 465.25,385.30 465.50,385.30 465.75,385.30 466.00,385.30 466.25,385.30 466.50,385.30 466.75,385.30 467.00,385.30 467.25,385.30 467.50,385.30 467.75,385.30 468.00,385.29 468.25,385.29 468.50,385.29 468.75,385.28 469.00,385.28 469.25,385.27 469.50,385.26 469.75,385.25 470.00,385.23 470.25,385.21 470.50,385.18 470.75,385.15 471.00,385.10 471.25,385.04 471.50,384.97 471.75,384.87 472.00,384.74 472.25,384.58 472.50,384.37 472.75,384.09 473.00,383.73 473.25,383.26 473.50,382.67 473.75,381.91 474.00,380.96 474.25,379.79 474.50,378.36 474.75,376.66 475.00,374.66 475.25,372.36 475.50,369.77 475.75,366.93 476.00,363.90 476.25,360.74 476.50,357.55 476.75,354.46 477.00,351.58 477.25,349.03 477.50,346.94 477.75,345.41 478.00,344.52 478.25,344.32 478.50,345.09 478.75,346.90 479.00,349.59 479.25,352.96 479.50,356.74 479.75,360.70 480.00,364.60 480.25,368.26 480.50,371.53 480.75,374.36 481.00,376.72 481.25,378.63 481.50,380.14 481.75,381.30 482.00,382.18 482.25,382.84 482.50,383.34 482.75,383.72 483.00,384.02 483.25,384.25 483.50,384.43 483.75,384.59 484.00,384.71 484.25,384.82 484.50,384.91 484.75,384.98 485.00,385.04 485.25,385.09 485.50,385.14 485.75,385.17 486.00,385.20 486.25,385.22 486.50,385.24 486.75,385.25 487.00,385.26 487.25,385.27 487.50,385.28 487.75,385.29 488.00,385.29 488.25,385.29 488.50,385.29 488.75,385.30 489.00,385.30 489.25,385.30 489.50,385.30 489.75,385.30 490.00,385.30 490.25,385.30 490.50,385.30 490.75,385.30 491.00,385.30 491.25,385.30 491.50,385.30 491.75,385.30 492.00,385.30 492.25,385.30 492.50,385.30 492.75,385.30 493.00,385.30 493.25,385.30 493.50,385.30 493.75,385.30 494.00,385.30 494.25,385.30 494.50,385.30 494.75,385.30 495.00,385.30 495.25,385.30 495.50,385.30 495.75,385.30 496.00,385.30 496.25,385.30 496.50,385.30 496.75,385.30 497.00,385.30 497.25,385.30 497.50,385.30 497.75,385.30 498.00,385.30 498.25,385.30 498.50,385.30 498.75,385.30 499.00,385.30 499.25,385.30 499.50,385.30 499.75,385.30 500.00,385.30 500.25,385.30 500.50,385.30 500.75,385.30 501.00,385.30 501.25,385.30 501.50,385.30 501.75,385.30 502.00,385.30 502.25,385.30 502.50,385.30 502.75,385.30 503.00,385.30 503.25,385.30 503.50,385.30 503.75,385.30 504.00,385.30 504.25,385.30 504.50,385.30 504.75,385.30 505.00,385.30 505.25,385.30 505.50,385.30 505.75,385.30 506.00,385.30 506.25,385.30 506.50,385.30 506.75,385.30 507.00,385.30 507.25,385.30 507.50,385.30 507.75,385.30 508.00,385.30 508.25,385.30 508.50,385.30 508.75,385.30 509.00,385.30 509.25,385.30 509.50,385.30 509.75,385.30 510.00,385.30 510.25,385.30 510.50,385.30 510.75,385.30 511.00,385.30" fill="none" stroke-linejoin="round" stroke="#3f6aa8" stroke-width="1.6"/>
<polyline points="50.50,381.84 50.75,381.16 51.00,380.60 51.25,380.25 51.50,380.18 51.75,380.38 52.00,380.80 52.25,381.35 52.50,381.93 52.75,382.42" fill="none" stroke-linejoin="round" stroke="#2a55c0" stroke-width="1.45"/>
<polyline points="50.50,381.84 50.75,381.16 51.00,380.60 51.25,380.25 51.50,380.18 51.75,380.38 52.00,380.80 52.25,381.35 52.50,381.93 52.75,382.42" fill="none" stroke-linejoin="round" stroke="#142a70" stroke-width="0.7" opacity="0.55"/>
<polyline points="53.75,382.21 54.00,381.50 54.25,380.59 54.50,379.51 54.75,378.35 55.00,377.14 55.25,375.90 55.50,374.57 55.75,373.03 56.00,371.08 56.25,368.54 56.50,365.27 56.75,361.28 57.00,356.75 57.25,352.03 57.50,347.62 57.75,344.08 58.00,341.90 58.25,341.42 58.50,342.73 58.75,345.68 59.00,349.88 59.25,354.84 59.50,360.02 59.75,364.96 60.00,369.30 60.25,372.87 60.50,375.62 60.75,377.60 61.00,378.95 61.25,379.81 61.50,380.30 61.75,380.55 62.00,380.65 62.25,380.65 62.50,380.61 62.75,380.55 63.00,380.48 63.25,380.42 63.50,380.36 63.75,380.30 64.00,380.22 64.25,380.11 64.50,379.93 64.75,379.63 65.00,379.12 65.25,378.24 65.50,376.79 65.75,374.48 66.00,370.99 66.25,366.04 66.50,359.50 66.75,351.56 67.00,342.74 67.25,333.99 67.50,326.47 67.75,321.38 68.00,319.58 68.25,320.97 68.50,324.93 68.75,330.95 69.00,338.28 69.25,346.14 69.50,353.77 69.75,360.65 70.00,366.45 70.25,371.06 70.50,374.56 70.75,377.12 71.00,378.93 71.25,380.21 71.50,381.13 71.75,381.80 72.00,382.32" fill="none" stroke-linejoin="round" stroke="#2a55c0" stroke-width="1.45"/>
<polyline points="53.75,382.21 54.00,381.50 54.25,380.59 54.50,379.51 54.75,378.35 55.00,377.14 55.25,375.90 55.50,374.57 55.75,373.03 56.00,371.08 56.25,368.54 56.50,365.27 56.75,361.28 57.00,356.75 57.25,352.03 57.50,347.62 57.75,344.08 58.00,341.90 58.25,341.42 58.50,342.73 58.75,345.68 59.00,349.88 59.25,354.84 59.50,360.02 59.75,364.96 60.00,369.30 60.25,372.87 60.50,375.62 60.75,377.60 61.00,378.95 61.25,379.81 61.50,380.30 61.75,380.55 62.00,380.65 62.25,380.65 62.50,380.61 62.75,380.55 63.00,380.48 63.25,380.42 63.50,380.36 63.75,380.30 64.00,380.22 64.25,380.11 64.50,379.93 64.75,379.63 65.00,379.12 65.25,378.24 65.50,376.79 65.75,374.48 66.00,370.99 66.25,366.04 66.50,359.50 66.75,351.56 67.00,342.74 67.25,333.99 67.50,326.47 67.75,321.38 68.00,319.58 68.25,320.97 68.50,324.93 68.75,330.95 69.00,338.28 69.25,346.14 69.50,353.77 69.75,360.65 70.00,366.45 70.25,371.06 70.50,374.56 70.75,377.12 71.00,378.93 71.25,380.21 71.50,381.13 71.75,381.80 72.00,382.32" fill="none" stroke-linejoin="round" stroke="#142a70" stroke-width="0.7" opacity="0.55"/>
<polyline points="122.25,382.46 122.50,381.72 122.75,380.75 123.00,379.45 123.25,377.76 123.50,375.56 123.75,372.80 124.00,369.39 124.25,365.33 124.50,360.67 124.75,355.51 125.00,350.06 125.25,344.59 125.50,339.42 125.75,334.91 126.00,331.40 126.25,329.17 126.50,328.40 126.75,329.28 127.00,331.83 127.25,335.80 127.50,340.84 127.75,346.50 128.00,352.38 128.25,358.07 128.50,363.30 128.75,367.87 129.00,371.70 129.25,374.80 129.50,377.21 129.75,379.06 130.00,380.44 130.25,381.46 130.50,382.22" fill="none" stroke-linejoin="round" stroke="#2a55c0" stroke-width="1.45"/>
<polyline points="122.25,382.46 122.50,381.72 122.75,380.75 123.00,379.45 123.25,377.76 123.50,375.56 123.75,372.80 124.00,369.39 124.25,365.33 124.50,360.67 124.75,355.51 125.00,350.06 125.25,344.59 125.50,339.42 125.75,334.91 126.00,331.40 126.25,329.17 126.50,328.40 126.75,329.28 127.00,331.83 127.25,335.80 127.50,340.84 127.75,346.50 128.00,352.38 128.25,358.07 128.50,363.30 128.75,367.87 129.00,371.70 129.25,374.80 129.50,377.21 129.75,379.06 130.00,380.44 130.25,381.46 130.50,382.22" fill="none" stroke-linejoin="round" stroke="#142a70" stroke-width="0.7" opacity="0.55"/>
<polyline points="169.75,382.47 170.00,381.97 170.25,381.32 170.50,380.44 170.75,379.21 171.00,377.50 171.25,375.12 171.50,371.89 171.75,367.65 172.00,362.32 172.25,355.94 172.50,348.74 172.75,341.13 173.00,333.70 173.25,327.17 173.50,322.23 173.75,319.47 174.00,319.21 174.25,321.49 174.50,326.04 174.75,332.30 175.00,339.61 175.25,347.23 175.50,354.56 175.75,361.13 176.00,366.68 176.25,371.13 176.50,374.55 176.75,377.08 177.00,378.92 177.25,380.23 177.50,381.17 177.75,381.87 178.00,382.41" fill="none" stroke-linejoin="round" stroke="#2a55c0" stroke-width="1.45"/>
<polyline points="169.75,382.47 170.00,381.97 170.25,381.32 170.50,380.44 170.75,379.21 171.00,377.50 171.25,375.12 171.50,371.89 171.75,367.65 172.00,362.32 172.25,355.94 172.50,348.74 172.75,341.13 173.00,333.70 173.25,327.17 173.50,322.23 173.75,319.47 174.00,319.21 174.25,321.49 174.50,326.04 174.75,332.30 175.00,339.61 175.25,347.23 175.50,354.56 175.75,361.13 176.00,366.68 176.25,371.13 176.50,374.55 176.75,377.08 177.00,378.92 177.25,380.23 177.50,381.17 177.75,381.87 178.00,382.41" fill="none" stroke-linejoin="round" stroke="#142a70" stroke-width="0.7" opacity="0.55"/>
<polyline points="248.50,381.89 248.75,380.92 249.00,379.86 249.25,378.75 249.50,377.68 249.75,376.71 250.00,375.88 250.25,375.18 250.50,374.54 250.75,373.83 251.00,372.83 251.25,371.25 251.50,368.77 251.75,364.99 252.00,359.56 252.25,352.22 252.50,342.90 252.75,331.85 253.00,319.65 253.25,307.27 253.50,295.92 253.75,286.91 254.00,281.38 254.25,280.05 254.50,282.50 254.75,288.17 255.00,296.49 255.25,306.65 255.50,317.75 255.75,328.94 256.00,339.49 256.25,348.91 256.50,356.91 256.75,363.42 257.00,368.53 257.25,372.41 257.50,375.30 257.75,377.42 258.00,378.98 258.25,380.14 258.50,381.02 258.75,381.72 259.00,382.29" fill="none" stroke-linejoin="round" stroke="#2a55c0" stroke-width="1.45"/>
<polyline points="248.50,381.89 248.75,380.92 249.00,379.86 249.25,378.75 249.50,377.68 249.75,376.71 250.00,375.88 250.25,375.18 250.50,374.54 250.75,373.83 251.00,372.83 251.25,371.25 251.50,368.77 251.75,364.99 252.00,359.56 252.25,352.22 252.50,342.90 252.75,331.85 253.00,319.65 253.25,307.27 253.50,295.92 253.75,286.91 254.00,281.38 254.25,280.05 254.50,282.50 254.75,288.17 255.00,296.49 255.25,306.65 255.50,317.75 255.75,328.94 256.00,339.49 256.25,348.91 256.50,356.91 256.75,363.42 257.00,368.53 257.25,372.41 257.50,375.30 257.75,377.42 258.00,378.98 258.25,380.14 258.50,381.02 258.75,381.72 259.00,382.29" fill="none" stroke-linejoin="round" stroke="#142a70" stroke-width="0.7" opacity="0.55"/>
<polyline points="277.00,382.11 277.25,380.80 277.50,378.88 277.75,376.16 278.00,372.48 278.25,367.72 278.50,361.91 278.75,355.20 279.00,347.99 279.25,340.79 279.50,334.30 279.75,329.19 280.00,326.07 280.25,325.32 280.50,327.04 280.75,331.00 281.00,336.72 281.25,343.56 281.50,350.81 281.75,357.85 282.00,364.20 282.25,369.56 282.50,373.83 282.75,377.05 283.00,379.36 283.25,380.93 283.50,381.95" fill="none" stroke-linejoin="round" stroke="#2a55c0" stroke-width="1.45"/>
<polyline points="277.00,382.11 277.25,380.80 277.50,378.88 277.75,376.16 278.00,372.48 278.25,367.72 278.50,361.91 278.75,355.20 279.00,347.99 279.25,340.79 279.50,334.30 279.75,329.19 280.00,326.07 280.25,325.32 280.50,327.04 280.75,331.00 281.00,336.72 281.25,343.56 281.50,350.81 281.75,357.85 282.00,364.20 282.25,369.56 282.50,373.83 282.75,377.05 283.00,379.36 283.25,380.93 283.50,381.95" fill="none" stroke-linejoin="round" stroke="#142a70" stroke-width="0.7" opacity="0.55"/>
<polyline points="285.75,382.29 286.00,381.70 286.25,380.78 286.50,379.38 286.75,377.32 287.00,374.39 287.25,370.44 287.50,365.35 287.75,359.21 288.00,352.24 288.25,344.94 288.50,337.95 288.75,332.01 289.00,327.85 289.25,325.99 289.50,326.69 289.75,329.83 290.00,334.98 290.25,341.48 290.50,348.57 290.75,355.55 291.00,361.87 291.25,367.17 291.50,371.34 291.75,374.40 292.00,376.49 292.25,377.80 292.50,378.48 292.75,378.65 293.00,378.36 293.25,377.57 293.50,376.17 293.75,373.99 294.00,370.84 294.25,366.58 294.50,361.19 294.75,354.83 295.00,347.89 295.25,340.98 295.50,334.89 295.75,330.40 296.00,328.14 296.25,328.30 296.50,330.25 296.75,333.74 297.00,338.45 297.25,343.96 297.50,349.84 297.75,355.68 298.00,361.16 298.25,366.03 298.50,370.19 298.75,373.59 299.00,376.28 299.25,378.35 299.50,379.91 299.75,381.07 300.00,381.93" fill="none" stroke-linejoin="round" stroke="#2a55c0" stroke-width="1.45"/>
<polyline points="285.75,382.29 286.00,381.70 286.25,380.78 286.50,379.38 286.75,377.32 287.00,374.39 287.25,370.44 287.50,365.35 287.75,359.21 288.00,352.24 288.25,344.94 288.50,337.95 288.75,332.01 289.00,327.85 289.25,325.99 289.50,326.69 289.75,329.83 290.00,334.98 290.25,341.48 290.50,348.57 290.75,355.55 291.00,361.87 291.25,367.17 291.50,371.34 291.75,374.40 292.00,376.49 292.25,377.80 292.50,378.48 292.75,378.65 293.00,378.36 293.25,377.57 293.50,376.17 293.75,373.99 294.00,370.84 294.25,366.58 294.50,361.19 294.75,354.83 295.00,347.89 295.25,340.98 295.50,334.89 295.75,330.40 296.00,328.14 296.25,328.30 296.50,330.25 296.75,333.74 297.00,338.45 297.25,343.96 297.50,349.84 297.75,355.68 298.00,361.16 298.25,366.03 298.50,370.19 298.75,373.59 299.00,376.28 299.25,378.35 299.50,379.91 299.75,381.07 300.00,381.93" fill="none" stroke-linejoin="round" stroke="#142a70" stroke-width="0.7" opacity="0.55"/>
<polyline points="392.50,382.20 392.75,381.37 393.00,380.26 393.25,378.79 393.50,376.87 393.75,374.42 394.00,371.39 394.25,367.77 394.50,363.59 394.75,358.99 395.00,354.15 395.25,349.34 395.50,344.89 395.75,341.13 396.00,338.37 396.25,336.85 396.50,336.72 396.75,338.06 397.00,340.76 397.25,344.57 397.50,349.14 397.75,354.10 398.00,359.10 398.25,363.84 398.50,368.11 398.75,371.77 399.00,374.80 399.25,377.20 399.50,379.06 399.75,380.47 400.00,381.52 400.25,382.29" fill="none" stroke-linejoin="round" stroke="#2a55c0" stroke-width="1.45"/>
<polyline points="392.50,382.20 392.75,381.37 393.00,380.26 393.25,378.79 393.50,376.87 393.75,374.42 394.00,371.39 394.25,367.77 394.50,363.59 394.75,358.99 395.00,354.15 395.25,349.34 395.50,344.89 395.75,341.13 396.00,338.37 396.25,336.85 396.50,336.72 396.75,338.06 397.00,340.76 397.25,344.57 397.50,349.14 397.75,354.10 398.00,359.10 398.25,363.84 398.50,368.11 398.75,371.77 399.00,374.80 399.25,377.20 399.50,379.06 399.75,380.47 400.00,381.52 400.25,382.29" fill="none" stroke-linejoin="round" stroke="#142a70" stroke-width="0.7" opacity="0.55"/>
<polyline points="473.75,381.91 474.00,380.96 474.25,379.79 474.50,378.36 474.75,376.66 475.00,374.66 475.25,372.36 475.50,369.77 475.75,366.93 476.00,363.90 476.25,360.74 476.50,357.55 476.75,354.46 477.00,351.58 477.25,349.03 477.50,346.94 477.75,345.41 478.00,344.52 478.25,344.32 478.50,345.09 478.75,346.90 479.00,349.59 479.25,352.96 479.50,356.74 479.75,360.70 480.00,364.60 480.25,368.26 480.50,371.53 480.75,374.36 481.00,376.72 481.25,378.63 481.50,380.14 481.75,381.30 482.00,382.18" fill="none" stroke-linejoin="round" stroke="#2a55c0" stroke-width="1.45"/>
<polyline points="473.75,381.91 474.00,380.96 474.25,379.79 474.50,378.36 474.75,376.66 475.00,374.66 475.25,372.36 475.50,369.77 475.75,366.93 476.00,363.90 476.25,360.74 476.50,357.55 476.75,354.46 477.00,351.58 477.25,349.03 477.50,346.94 477.75,345.41 478.00,344.52 478.25,344.32 478.50,345.09 478.75,346.90 479.00,349.59 479.25,352.96 479.50,356.74 479.75,360.70 480.00,364.60 480.25,368.26 480.50,371.53 480.75,374.36 481.00,376.72 481.25,378.63 481.50,380.14 481.75,381.30 482.00,382.18" fill="none" stroke-linejoin="round" stroke="#142a70" stroke-width="0.7" opacity="0.55"/>
<text transform="translate(49.05,338.15) scale(1.114,1)" font-family="Liberation Serif, serif" font-size="6.46" font-weight="bold" font-style="italic" fill="#000" style="stroke:#000;stroke-width:0.3px">MYC</text>
<text transform="translate(60.70,316.05) scale(1.160,1)" font-family="Liberation Serif, serif" font-size="6.31" font-weight="bold" font-style="italic" fill="#000" style="stroke:#000;stroke-width:0.3px">REL</text>
<text transform="translate(114.10,321.85) scale(1.238,1)" font-family="Liberation Serif, serif" font-size="6.46" font-weight="bold" font-style="italic" fill="#000" style="stroke:#000;stroke-width:0.3px">CECR1</text>
<text transform="translate(166.70,312.25) scale(1.213,1)" font-family="Liberation Serif, serif" font-size="6.31" font-weight="bold" font-style="italic" fill="#000" style="stroke:#000;stroke-width:0.3px">RB1</text>
<text transform="translate(244.46,275.50) scale(1.095,1)" font-family="Liberation Serif, serif" font-size="7.15" font-weight="bold" font-style="italic" fill="#000" style="stroke:#000;stroke-width:0.3px">TP53</text>
<text transform="translate(388.34,331.50) scale(1.179,1)" font-family="Liberation Serif, serif" font-size="7.00" font-weight="bold" font-style="italic" fill="#000" style="stroke:#000;stroke-width:0.3px">SIM1</text>
<text transform="translate(462.19,340.65) scale(1.239,1)" font-family="Liberation Serif, serif" font-size="6.77" font-weight="bold" font-style="italic" fill="#000" style="stroke:#000;stroke-width:0.3px">SEMA4F</text>
<text transform="translate(280.50,321.66) rotate(-90) scale(0.987,1)" font-family="Liberation Serif, serif" font-size="6.62" font-weight="bold" font-style="italic" fill="#000" style="stroke:#000;stroke-width:0.3px">CDKN2A</text>
<text transform="translate(290.60,324.20) rotate(-90) scale(0.956,1)" font-family="Liberation Serif, serif" font-size="6.77" font-weight="bold" font-style="italic" fill="#000" style="stroke:#000;stroke-width:0.3px">BCL2</text>
<text transform="translate(299.30,325.67) rotate(-90) scale(0.988,1)" font-family="Liberation Serif, serif" font-size="7.08" font-weight="bold" font-style="italic" fill="#000" style="stroke:#000;stroke-width:0.3px">CDKN1B</text>
<text transform="translate(26.6,336.5) rotate(-90)" font-family="Liberation Serif, serif" font-size="11" fill="#111" style="stroke:#111;stroke-width:0.4px">Fluorescence</text>
<text x="256.2" y="407.6" font-family="Liberation Serif, serif" font-size="11.8" fill="#111" style="stroke:#111;stroke-width:0.4px">PCR product size</text>
</svg>
</body></html>
